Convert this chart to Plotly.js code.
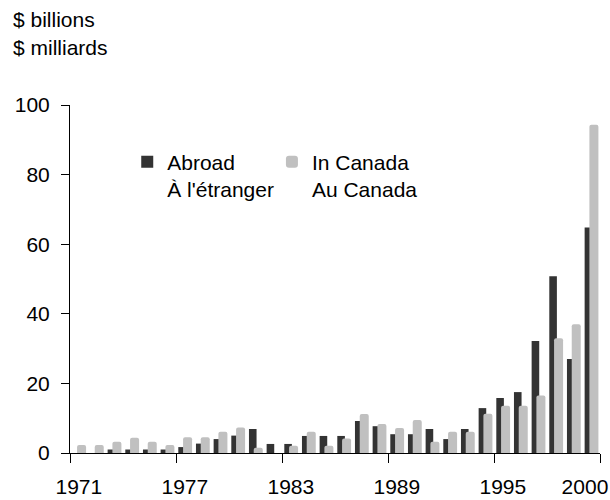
<!DOCTYPE html>
<html>
<head>
<meta charset="utf-8">
<script src="https://cdn.plot.ly/plotly-3.0.1.min.js"></script>
<style>html,body{margin:0;padding:0;background:#fff;}#chart{width:610px;height:500px;}</style>
</head>
<body>
<div id="chart"></div>
<script>
var years = [1971,1972,1973,1974,1975,1976,1977,1978,1979,1980,
             1981,1982,1983,1984,1985,1986,1987,1988,1989,1990,
             1991,1992,1993,1994,1995,1996,1997,1998,1999,2000];
var abroad = [0,0,1.0,1.0,1.0,1.0,1.7,2.7,4.0,5.0,
              6.9,2.6,2.6,4.9,4.9,4.9,9.2,7.7,5.4,5.4,
              6.9,4.0,6.9,12.9,15.8,17.5,32.2,50.8,27.0,64.8];
var inCanada = [2.3,2.3,3.2,4.4,3.2,2.3,4.5,4.5,6.1,7.3,
                1.5,0,2.1,6.1,2.1,4.2,11.2,8.3,7.2,9.5,
                3.2,6.1,6.1,11.3,13.6,13.6,16.5,33.0,37.0,94.3];
var tickYears = [1971,1977,1983,1989,1995,2000];
var tickLabels = ['1971','1977','1983','1989','1995','2000'];
var seriesNames = ['Abroad<br>À l\'étranger', 'In Canada<br>Au Canada'];
var unitLabel = ['$ billions', '$ milliards'];

var FONT = 'Liberation Sans, Arial, sans-serif';
var last = tickYears.length - 1;
// tick marks sit on category boundaries; labels centred on categories
var tickBounds = tickYears.map(function(y, i){ return i === last ? y + 0.5 : y - 0.5; });
// last label nudged inward so it stays inside the frame (as in the original)
var labelPos = tickYears.map(function(y, i){ return i === last ? y - 0.35 : y; });
var xr = [years[0] - 0.5, years[years.length - 1] + 0.5];

var traces = [
  {type:'bar', x: years, y: abroad, name: seriesNames[0], xaxis:'x', yaxis:'y', legend:'legend',
   marker:{color:'#333333'}, width: 0.43, offset: -0.37, hoverinfo:'x+y'},
  {type:'bar', x: years, y: inCanada, name: seriesNames[1], xaxis:'x2', yaxis:'y', legend:'legend2',
   marker:{color:'#C0C0C0', cornerradius: 2}, width: 0.51, offset: -0.10, hoverinfo:'x+y'}
];

var legendBase = {orientation:'v', yanchor:'top', xanchor:'left', valign:'top',
                  font:{family: FONT, size:21, color:'#000'},
                  bgcolor:'rgba(0,0,0,0)', itemclick:false};

var layout = {
  width: 610, height: 500,
  margin: {l:70, r:10, t:105, b:47},
  paper_bgcolor:'#ffffff', plot_bgcolor:'#ffffff',
  font: {family: FONT, size: 21, color:'#000'},
  barmode: 'overlay',
  showlegend: true,
  legend: Object.assign({}, legendBase, {x: 0.108, y: 0.895}),
  legend2: Object.assign({}, legendBase, {x: 0.381, y: 0.895}),
  xaxis: {range: xr, tickvals: labelPos, ticktext: tickLabels, ticks:'',
          showline:true, linecolor:'#000', linewidth:1, showgrid:false, zeroline:false,
          ticklabelstandoff: 15,
          tickfont:{family: FONT, size:21, color:'#000'}},
  xaxis2: {overlaying:'x', matches:'x', anchor:'y', range: xr, tickvals: tickBounds, showticklabels:false,
           ticks:'outside', ticklen:9, tickcolor:'#000', tickwidth:1,
           showline:false, showgrid:false, zeroline:false, side:'bottom'},
  yaxis: {range:[0,100], tickvals:[0,20,40,60,80,100], ticks:'outside', ticklen:8,
          tickcolor:'#000', tickwidth:1, showline:true, linecolor:'#000', linewidth:1,
          showgrid:false, zeroline:false, ticklabelstandoff: 7,
          tickfont:{family: FONT, size:21, color:'#000'}},
  annotations: [
    {xref:'paper', yref:'paper', x: -0.112, y: 1.245, xanchor:'left', yanchor:'middle',
     text: unitLabel[0], showarrow:false, font:{family: FONT, size:21, color:'#000'}},
    {xref:'paper', yref:'paper', x: -0.112, y: 1.165, xanchor:'left', yanchor:'middle',
     text: unitLabel[1], showarrow:false, font:{family: FONT, size:21, color:'#000'}}
  ]
};

Plotly.newPlot('chart', traces, layout, {displayModeBar:false, staticPlot:true});
</script>
</body>
</html>
